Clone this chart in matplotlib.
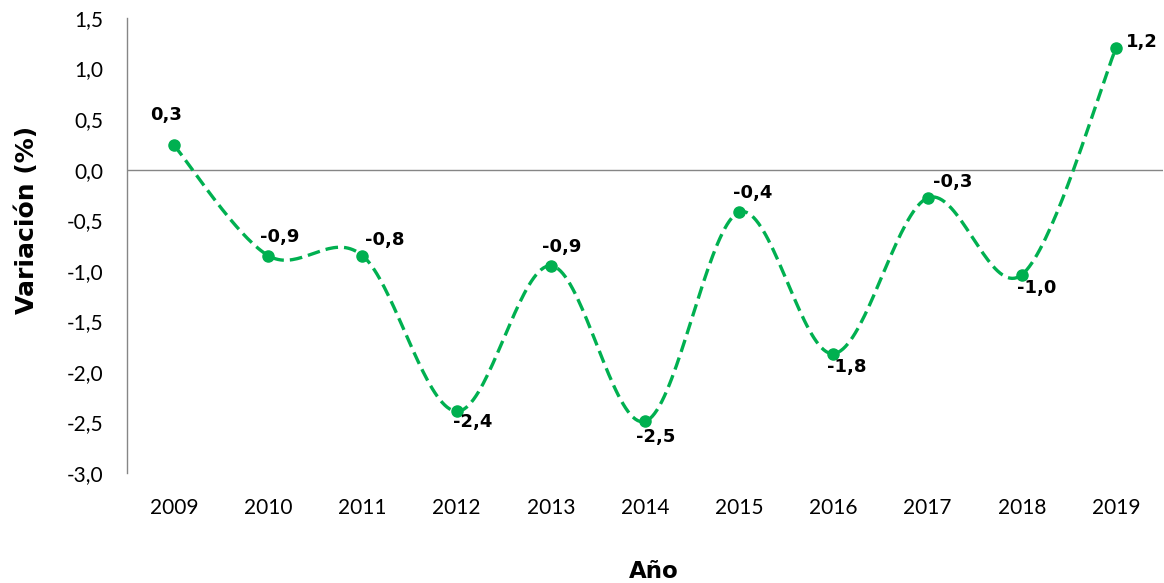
import numpy as np
import matplotlib
matplotlib.use("Agg")
import matplotlib.pyplot as plt

years = ["2009", "2010", "2011", "2012", "2013", "2014", "2015", "2016", "2017", "2018", "2019"]
values = [0.24, -0.85, -0.85, -2.39, -0.95, -2.49, -0.42, -1.82, -0.28, -1.04, 1.20]
labels = ["0,3", "-0,9", "-0,8", "-2,4", "-0,9", "-2,5", "-0,4", "-1,8", "-0,3", "-1,0", "1,2"]
yticks = [1.5, 1.0, 0.5, 0.0, -0.5, -1.0, -1.5, -2.0, -2.5, -3.0]

GREEN = "#00B050"

fig = plt.figure(figsize=(11.64, 5.83), dpi=100)
ax = fig.add_axes([127/1164, 1-473/583, 1036/1164, (473-18)/583])

x = np.arange(len(values), dtype=float)
y = np.array(values, dtype=float)

# Excel-like smoothed line (Catmull-Rom as cubic Bezier)
px = np.concatenate([[x[0]], x, [x[-1]]])
py = np.concatenate([[y[0]], y, [y[-1]]])
cx, cy = [], []
t = np.linspace(0, 1, 40)
for i in range(len(x) - 1):
    p0 = np.array([px[i], py[i]]); p1 = np.array([px[i+1], py[i+1]])
    p2 = np.array([px[i+2], py[i+2]]); p3 = np.array([px[i+3], py[i+3]])
    c1 = p1 + (p2 - p0) / 6.0
    c2 = p2 - (p3 - p1) / 6.0
    b = ((1-t)**3)[:, None]*p1 + (3*(1-t)**2*t)[:, None]*c1 + (3*(1-t)*t**2)[:, None]*c2 + (t**3)[:, None]*p2
    if i > 0:
        b = b[1:]
    cx.extend(b[:, 0]); cy.extend(b[:, 1])

ax.plot(cx, cy, color=GREEN, lw=2.4, linestyle=(0, (3.8, 1.8)), dash_capstyle="butt", zorder=3)
ax.plot(x, y, linestyle="none", marker="o", ms=8, color=GREEN, zorder=4)

offsets = [(-8, 30), (11, 19), (22, 16), (16, -11), (11, 19), (11, -16),
           (14, 19), (13, -13), (25, 16), (15, -13), (26, 6)]
for xi, yi, lab, off in zip(x, y, labels, offsets):
    ax.annotate(lab, (xi, yi), xytext=off, textcoords="offset pixels",
                ha="center", va="center", fontsize=13, fontweight="bold",
                family="DejaVu Sans", color="black", zorder=5)

ax.axhline(0, color="#868686", lw=1.0, zorder=1)

ax.set_xlim(-0.5, len(values) - 0.5)
ax.set_ylim(-3.0, 1.5)
ax.set_yticks(yticks)
ax.set_yticklabels([f"{v:.1f}".replace(".", ",") for v in yticks], fontsize=15, family="Lato")
ax.set_xticks(x)
ax.set_xticklabels(years, fontsize=15, family="Lato")
ax.tick_params(axis="both", length=0)
ax.tick_params(axis="y", pad=17)
ax.tick_params(axis="x", pad=18)

for s in ["top", "right", "bottom"]:
    ax.spines[s].set_visible(False)
ax.spines["left"].set_color("#868686")
ax.spines["left"].set_linewidth(1.0)

fig.text(654/1164, 1-571/583, "Año", ha="center", va="center", fontsize=16.5,
         fontweight="bold", family="DejaVu Sans")
fig.text(27/1164, 1-220/583, "Variación (%)", ha="center", va="center", fontsize=18,
         fontweight="bold", family="DejaVu Sans", rotation=90)

fig.savefig("out.png", dpi=100)
